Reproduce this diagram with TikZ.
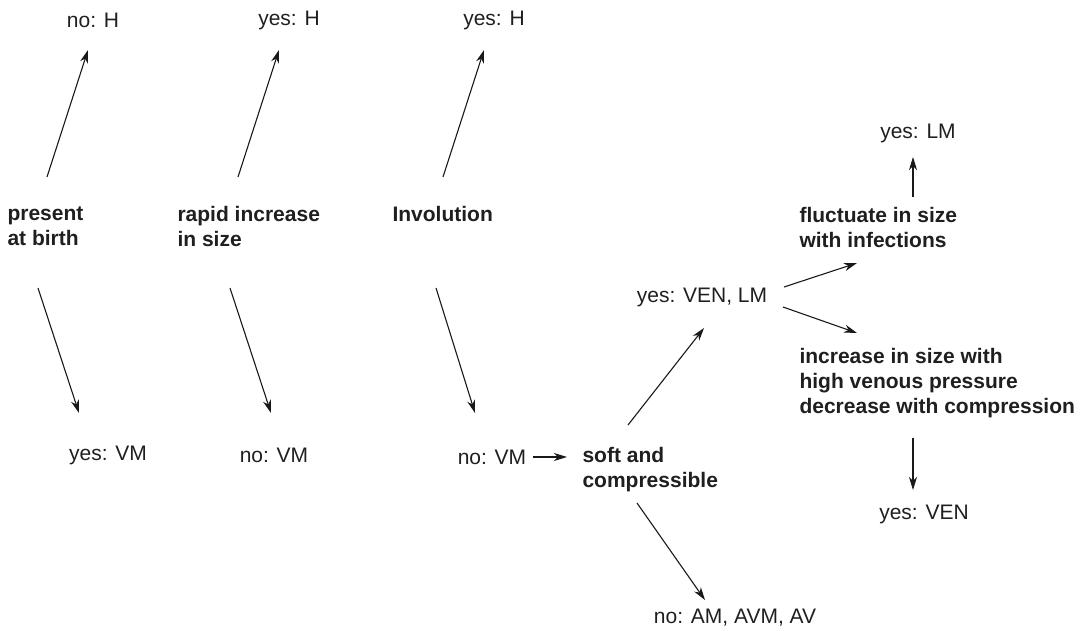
\documentclass[tikz,border=0pt]{standalone}
\usepackage{fontspec}
\setmainfont{Liberation Sans}
\usetikzlibrary{arrows.meta}

\tikzset{
  every node/.style={inner sep=0pt, text=black!88, font=\fontsize{21bp}{25bp}\selectfont},
  ques/.style={anchor=west, align=left, font=\fontsize{21bp}{25bp}\selectfont\bfseries},
}

\begin{document}
\begin{tikzpicture}[x=1bp, y=-1bp, >={Stealth[length=13bp,width=8bp,inset=4bp]}, line width=1.1bp, draw=black!90]
\useasboundingbox (0,0) rectangle (1087,631);

\node (noH) at (93,20) {no: H};
\node (yesHa) at (289,20) {yes: H};
\node (yesHb) at (494,20) {yes: H};

\node[ques] (birth) at (7,226) {present\\at birth};
\node[ques] (rapid) at (177,226) {rapid increase\\in size};
\node[ques] (invol) at (392,214) {Involution};

\node (yesVM) at (108,455) {yes: VM};
\node (noVMa) at (274,455) {no: VM};
\node (noVMb) at (492,457) {no: VM};

\node[ques] (soft) at (582,470) {soft and\\compressible};
\node (yesVL) at (702,297) {yes: VEN, LM};
\node (noAM) at (735,618) {no: AM, AVM, AV};

\node[ques] (fluct) at (799,227) {fluctuate in size\\with infections};
\node (yesLM) at (918,133) {yes: LM};
\node[ques] (press) at (799,383) {increase in size with\\high venous pressure\\decrease with compression};
\node (yesVEN) at (924,514) {yes: VEN};

% first column of questions
\draw[->] ([shift={(40,-49)}]birth.west) -- ([shift={(-5,30)}]noH.center);
\draw[->] ([shift={(61,-49)}]rapid.west) -- ([shift={(-10,30)}]yesHa.center);
\draw[->] ([shift={(51,-37)}]invol.west) -- ([shift={(-10,30)}]yesHb.center);

\draw[->] ([shift={(31,62)}]birth.west) -- ([shift={(-29,-42)}]yesVM.center);
\draw[->] ([shift={(53,62)}]rapid.west) -- ([shift={(-3,-42)}]noVMa.center);
\draw[->] ([shift={(44,74)}]invol.west) -- ([shift={(-17,-44)}]noVMb.center);

% soft and compressible
\draw[->] ([shift={(41,0)}]noVMb.center) -- ([shift={(-15,-13)}]soft.west);
\draw[->] ([shift={(46,-45)}]soft.west) -- ([shift={(2,31)}]yesVL.center);
\draw[->] ([shift={(55,33)}]soft.west) -- ([shift={(-30,-18)}]noAM.center);

\draw[->] ([shift={(82,-10)}]yesVL.center) -- ([shift={(58,36)}]fluct.west);
\draw[->] ([shift={(81,10)}]yesVL.center) -- ([shift={(58,-50)}]press.west);

\draw[->] ([shift={(114,-30)}]fluct.west) -- ([shift={(-5,24)}]yesLM.center);
\draw[->] ([shift={(114,55)}]press.west) -- ([shift={(-11,-24)}]yesVEN.center);

\end{tikzpicture}
\end{document}
